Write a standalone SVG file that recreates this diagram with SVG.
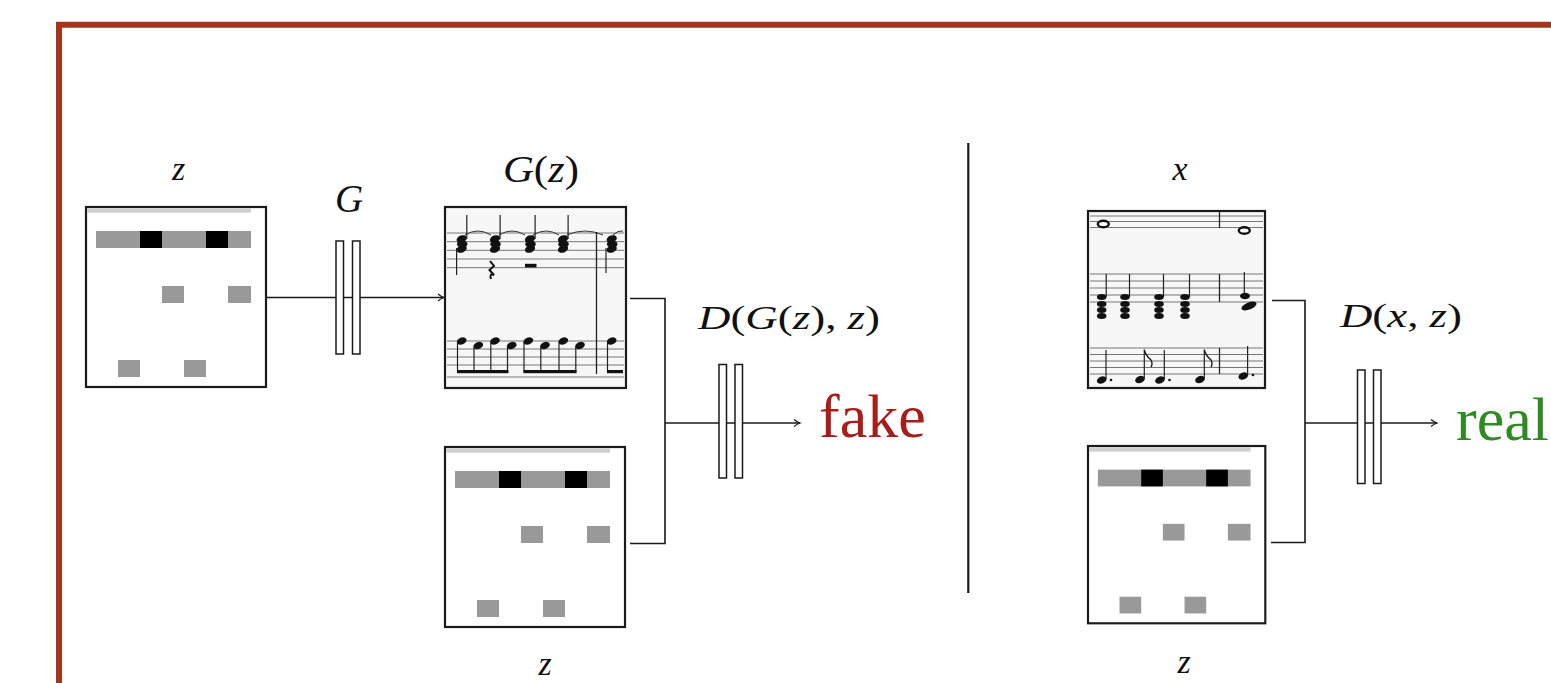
<svg xmlns="http://www.w3.org/2000/svg" width="1551" height="683" viewBox="0 0 1551 683">
<style>
.frame{fill:none;stroke:#a8321a;stroke-width:6}
.box{fill:#fff;stroke:#1a1a1a;stroke-width:2.2}
.sheet{fill:#f7f7f7;stroke:#1a1a1a;stroke-width:2.2}
.conn{fill:none;stroke:#1a1a1a;stroke-width:1.6}
.layer{fill:#fff;stroke:#1a1a1a;stroke-width:1.5}
.math{font-family:"Liberation Serif","DejaVu Serif",serif;fill:#111}
.it{font-style:italic}
.word{font-family:"Liberation Serif","DejaVu Serif",serif;font-size:62px}
.staff{stroke:#666;stroke-width:0.9}
.stem{stroke:#222;stroke-width:1.2}
.head{fill:#111}
.beam{fill:#111}
.gray{fill:#999}
.blk{fill:#000}
.faint{fill:#cfcfcf}
</style>
<defs>
<marker id="arrow" markerUnits="userSpaceOnUse" markerWidth="10" markerHeight="10" refX="8" refY="5" orient="auto">
<path d="M2,1.5 Q5,4 8,5 Q5,6 2,8.5" fill="none" stroke="#1a1a1a" stroke-width="1.3"/>
</marker>
<g id="roll">
<rect class="box" x="0" y="0" width="180" height="180"/>
<rect class="faint" x="1" y="1.2" width="164" height="4.5"/>
<rect class="gray" x="10" y="24" width="155" height="17"/>
<rect class="blk" x="54" y="24" width="22" height="17"/>
<rect class="blk" x="120" y="24" width="22" height="17"/>
<rect class="gray" x="76" y="79" width="22" height="17"/>
<rect class="gray" x="142" y="79" width="23" height="17"/>
<rect class="gray" x="32" y="153" width="22" height="17"/>
<rect class="gray" x="98" y="153" width="22" height="17"/>
</g>
<g id="chord2">
<ellipse cx="0" cy="0" rx="5.3" ry="3.6" transform="rotate(-20)" class="head"/>
<ellipse cx="0.5" cy="5" rx="5.3" ry="3.6" class="head"/>
<ellipse cx="0" cy="10" rx="5.3" ry="3.6" transform="translate(0,10) rotate(-20) translate(0,-10)" class="head"/>
</g>
<g id="chord4">
<ellipse cx="0" cy="0" rx="4.8" ry="3" class="head"/>
<ellipse cx="0" cy="7" rx="4.8" ry="3" class="head"/>
<ellipse cx="0" cy="13" rx="4.8" ry="3" class="head"/>
<ellipse cx="0" cy="19" rx="4.8" ry="3" class="head"/>
<line x1="4.5" y1="0" x2="4.5" y2="-23" class="stem"/>
</g>
<g id="dq">
<ellipse cx="0" cy="0" rx="5" ry="3.5" transform="rotate(-20)" class="head"/>
<line x1="4.3" y1="-1" x2="4.3" y2="-30" class="stem"/>
</g>
</defs>

<g id="frame">
<path class="frame" d="M59,683 V24.7 H1551"/>
</g>

<g id="connectors">
<line class="conn" x1="265" y1="297.5" x2="444" y2="297.5" marker-end="url(#arrow)"/>
<polyline class="conn" points="630,298.5 665,298.5 665,543.5 630,543.5"/>
<line class="conn" x1="665" y1="423" x2="800" y2="423" marker-end="url(#arrow)"/>
<polyline class="conn" points="1272,300.5 1305,300.5 1305,542.5 1271,542.5"/>
<line class="conn" x1="1305" y1="423" x2="1437" y2="423" marker-end="url(#arrow)"/>
<line x1="968.3" y1="143" x2="968.3" y2="593" stroke="#1a1a1a" stroke-width="2.2"/>
</g>

<g id="node-z-input">
<use href="#roll" transform="translate(86,207)"/>
<text class="math it" x="178.7" y="180" font-size="34" text-anchor="middle">z</text>
</g>

<g id="node-G">
<rect class="layer" x="336" y="241" width="7.5" height="113"/>
<rect class="layer" x="352.5" y="241" width="7.5" height="113"/>
<text class="math it" x="349" y="211.5" font-size="39" text-anchor="middle">G</text>
</g>

<g id="node-Gz">
<rect class="sheet" x="445" y="207" width="181" height="181"/>
<g>
<line class="staff" x1="447" y1="233" x2="624" y2="233"/>
<line class="staff" x1="447" y1="241.7" x2="624" y2="241.7"/>
<line class="staff" x1="447" y1="250.3" x2="624" y2="250.3"/>
<line class="staff" x1="447" y1="259" x2="624" y2="259"/>
<line class="staff" x1="447" y1="267.7" x2="624" y2="267.7"/>
<line class="staff" x1="447" y1="341" x2="624" y2="341"/>
<line class="staff" x1="447" y1="349" x2="624" y2="349"/>
<line class="staff" x1="447" y1="357" x2="624" y2="357"/>
<line class="staff" x1="447" y1="365" x2="624" y2="365"/>
<line class="staff" x1="447" y1="377" x2="624" y2="377"/>
</g>
<path d="M465,235 Q478,227 491,235 M499,235 Q512,227 525,235 M533,235 Q546,227 559,235 M567,235 Q585,227 603,235 M613,235 Q618,230 623,231" fill="none" stroke="#333" stroke-width="1"/>
<use href="#chord2" transform="translate(461.7,239)"/>
<use href="#chord2" transform="translate(495,239)"/>
<use href="#chord2" transform="translate(530,239)"/>
<use href="#chord2" transform="translate(563,239)"/>
<use href="#chord2" transform="translate(611.7,239)"/>
<line class="stem" x1="466.8" y1="215" x2="466.8" y2="239"/>
<line class="stem" x1="500.1" y1="215" x2="500.1" y2="239"/>
<line class="stem" x1="535.1" y1="215" x2="535.1" y2="239"/>
<line class="stem" x1="568.1" y1="215" x2="568.1" y2="239"/>
<line class="stem" x1="456.6" y1="248" x2="456.6" y2="275"/>
<line class="stem" x1="606" y1="248" x2="606" y2="273"/>
<path d="M490,261 L494,266 L489.5,270 L494,275 Q489,273 491,279" fill="none" stroke="#111" stroke-width="2"/>
<rect x="525" y="263.8" width="11.5" height="3.6" class="beam"/>
<line x1="596.5" y1="232" x2="596.5" y2="374" stroke="#222" stroke-width="1.3"/>
<g>
<ellipse cx="461.7" cy="341" rx="5" ry="3.5" transform="rotate(-20 461.7 341)" class="head"/>
<ellipse cx="478.3" cy="345.5" rx="5" ry="3.5" transform="rotate(-20 478.3 345.5)" class="head"/>
<ellipse cx="495" cy="341" rx="5" ry="3.5" transform="rotate(-20 495 341)" class="head"/>
<ellipse cx="511.7" cy="345.5" rx="5" ry="3.5" transform="rotate(-20 511.7 345.5)" class="head"/>
<ellipse cx="528.3" cy="341" rx="5" ry="3.5" transform="rotate(-20 528.3 341)" class="head"/>
<ellipse cx="545" cy="345.5" rx="5" ry="3.5" transform="rotate(-20 545 345.5)" class="head"/>
<ellipse cx="563.3" cy="341" rx="5" ry="3.5" transform="rotate(-20 563.3 341)" class="head"/>
<ellipse cx="580" cy="345.5" rx="5" ry="3.5" transform="rotate(-20 580 345.5)" class="head"/>
<ellipse cx="611.7" cy="341" rx="5" ry="3.5" transform="rotate(-20 611.7 341)" class="head"/>
<line class="stem" x1="457.5" y1="342" x2="457.5" y2="372"/>
<line class="stem" x1="474" y1="346.5" x2="474" y2="372"/>
<line class="stem" x1="490.8" y1="342" x2="490.8" y2="372"/>
<line class="stem" x1="507.5" y1="346.5" x2="507.5" y2="372"/>
<line class="stem" x1="524" y1="342" x2="524" y2="372"/>
<line class="stem" x1="540.8" y1="346.5" x2="540.8" y2="372"/>
<line class="stem" x1="559" y1="342" x2="559" y2="372"/>
<line class="stem" x1="575.8" y1="346.5" x2="575.8" y2="372"/>
<line class="stem" x1="607.5" y1="342" x2="607.5" y2="372"/>
<rect class="beam" x="457" y="370" width="51.5" height="3.2"/>
<rect class="beam" x="523.5" y="370" width="53" height="3.2"/>
<rect class="beam" x="607" y="370" width="16" height="3.2"/>
</g>
<text class="math" x="503" y="182" font-size="38" textLength="76" lengthAdjust="spacingAndGlyphs"><tspan class="it">G</tspan>(<tspan class="it">z</tspan>)</text>
</g>

<g id="node-z-condition">
<use href="#roll" transform="translate(445,447)"/>
<text class="math it" x="545" y="675" font-size="34" text-anchor="middle">z</text>
</g>

<g id="node-D-fake">
<rect class="layer" x="719" y="364.5" width="7.5" height="113.5"/>
<rect class="layer" x="735" y="364.5" width="7.5" height="113.5"/>
<text class="math" x="698" y="328.5" font-size="34" textLength="182" lengthAdjust="spacingAndGlyphs"><tspan class="it">D</tspan>(<tspan class="it">G</tspan>(<tspan class="it">z</tspan>), <tspan class="it">z</tspan>)</text>
</g>

<g id="node-fake">
<text class="word" x="819" y="437" fill="#a81c1a">fake</text>
</g>

<g id="node-x">
<rect class="sheet" x="1088" y="211" width="177" height="177"/>
<g>
<line class="staff" x1="1090" y1="216" x2="1263" y2="216"/>
<line class="staff" x1="1090" y1="221.5" x2="1263" y2="221.5"/>
<line class="staff" x1="1090" y1="227.5" x2="1263" y2="227.5"/>
<line class="staff" x1="1090" y1="274" x2="1263" y2="274"/>
<line class="staff" x1="1090" y1="281" x2="1263" y2="281"/>
<line class="staff" x1="1090" y1="288" x2="1263" y2="288"/>
<line class="staff" x1="1090" y1="295" x2="1263" y2="295"/>
<line class="staff" x1="1090" y1="302" x2="1263" y2="302"/>
<line class="staff" x1="1090" y1="348" x2="1263" y2="348"/>
<line class="staff" x1="1090" y1="354.5" x2="1263" y2="354.5"/>
<line class="staff" x1="1090" y1="361" x2="1263" y2="361"/>
<line class="staff" x1="1090" y1="367.5" x2="1263" y2="367.5"/>
<line class="staff" x1="1090" y1="374" x2="1263" y2="374"/>
</g>
<line x1="1219.5" y1="211" x2="1219.5" y2="228" stroke="#222" stroke-width="1.3"/>
<line x1="1219.5" y1="274" x2="1219.5" y2="302" stroke="#222" stroke-width="1.3"/>
<line x1="1219.5" y1="348" x2="1219.5" y2="374" stroke="#222" stroke-width="1.3"/>
<ellipse cx="1103.3" cy="224" rx="5.5" ry="3.3" fill="#fff" stroke="#111" stroke-width="2.4"/>
<ellipse cx="1244.3" cy="230.5" rx="5.5" ry="3.3" fill="#fff" stroke="#111" stroke-width="2.4"/>
<use href="#chord4" transform="translate(1101.7,297)"/>
<use href="#chord4" transform="translate(1125,297)"/>
<use href="#chord4" transform="translate(1159,297)"/>
<use href="#chord4" transform="translate(1185,297)"/>
<ellipse cx="1245" cy="296" rx="5" ry="3.3" class="head"/>
<ellipse cx="1249" cy="306" rx="8" ry="3.6" transform="rotate(-22 1249 306)" class="head"/>
<line class="stem" x1="1244.3" y1="296" x2="1244.3" y2="272"/>
<use href="#dq" transform="translate(1101.7,380)"/>
<circle cx="1111" cy="380" r="1.3" class="head"/>
<use href="#dq" transform="translate(1140,379.5)"/>
<path d="M1144.3,350 Q1146,356 1151,360 Q1153,364 1151,367" fill="none" stroke="#111" stroke-width="1.3"/>
<use href="#dq" transform="translate(1160,380)"/>
<circle cx="1169.5" cy="380" r="1.3" class="head"/>
<use href="#dq" transform="translate(1200,379.5)"/>
<path d="M1204.3,350 Q1206,356 1211,360 Q1213,364 1211,367" fill="none" stroke="#111" stroke-width="1.3"/>
<use href="#dq" transform="translate(1243.3,376)"/>
<circle cx="1253" cy="375" r="1.3" class="head"/>
<text class="math it" x="1180" y="180" font-size="34" text-anchor="middle">x</text>
</g>

<g id="node-z-condition-real">
<use href="#roll" transform="translate(1088,446) scale(0.985)"/>
<text class="math it" x="1184" y="673" font-size="34" text-anchor="middle">z</text>
</g>

<g id="node-D-real">
<rect class="layer" x="1357.5" y="370" width="7.5" height="113.5"/>
<rect class="layer" x="1373.5" y="370" width="7.5" height="113.5"/>
<text class="math" x="1340" y="327" font-size="34" textLength="122" lengthAdjust="spacingAndGlyphs"><tspan class="it">D</tspan>(<tspan class="it">x</tspan>, <tspan class="it">z</tspan>)</text>
</g>

<g id="node-real">
<text class="word" x="1456" y="440" fill="#2e8a22">real</text>
</g>
</svg>
